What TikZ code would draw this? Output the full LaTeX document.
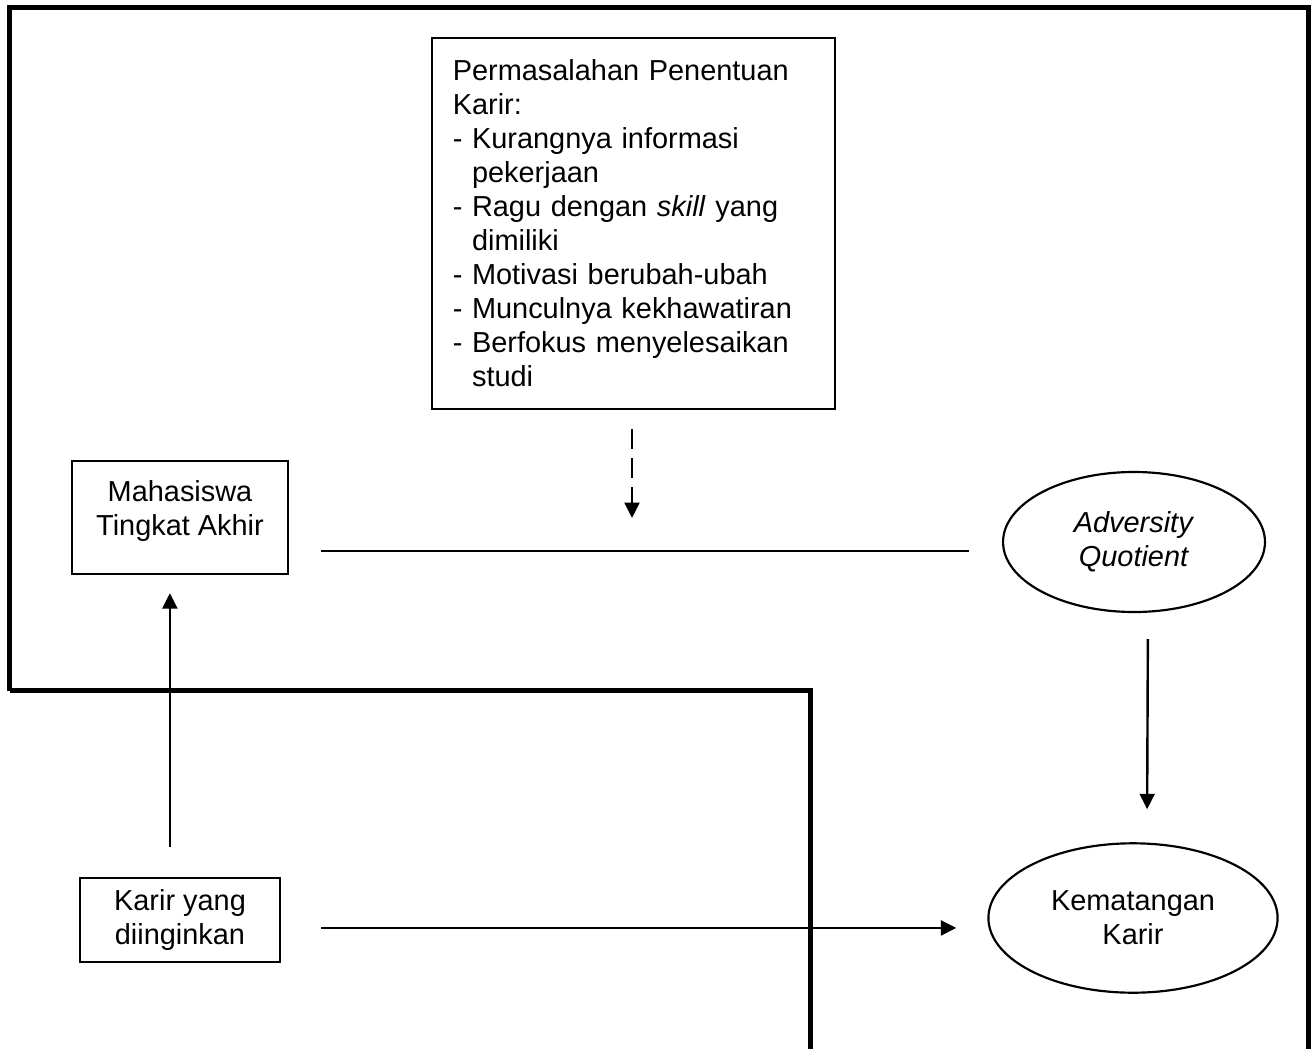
\documentclass[tikz,border=0pt]{standalone}
\usepackage{fontspec}
\setmainfont{Liberation Sans}
\usetikzlibrary{shapes.geometric,arrows.meta}

\tikzset{
        every node/.style={font=\fontsize{12}{14.1}\selectfont},
        box/.style={draw,line width=0.9pt,rectangle,align=center},
        oval/.style={draw,line width=0.9pt,ellipse,align=center,inner sep=0pt},
        arr/.style={line width=1pt,-{Triangle[length=6.4pt,width=6.2pt]}},
        dasharr/.style={arr,dash pattern=on 8.3pt off 3.7pt}
}

\begin{document}
\begin{tikzpicture}[x=0.415pt,y=-0.415pt]
        \useasboundingbox (0,0) rectangle (1311,1049);
        \draw[line width=2.1pt] (9.5,690.5) -- (9.5,7.5) -- (1309,7.5) -- (1309,1049);
        \draw[line width=2.1pt] (9.5,690.5) -- (810.5,690.5) -- (810.5,1049);

        \node[box,align=left,text width=150pt,inner xsep=8.6pt,minimum height=154pt] (prob) at (633.5,223.5)
                {Permasalahan Penentuan\\Karir:\\- Kurangnya informasi\\\hphantom{-\ }pekerjaan\\
                 - Ragu dengan \textit{skill} yang\\\hphantom{-\ }dimiliki\\- Motivasi berubah-ubah\\
                 - Munculnya kekhawatiran\\- Berfokus menyelesaikan\\\hphantom{-\ }studi};
        \node[box,minimum width=89.6pt,minimum height=46.9pt] (mhs) at (180,517.5)
                {Mahasiswa\\Tingkat Akhir\rule[-7.5pt]{0pt}{7.5pt}};
        \node[box,minimum width=83pt,minimum height=34.9pt] (ky) at (180,920) {Karir yang\\diinginkan};
        \node[oval,minimum width=108.7pt,minimum height=58.1pt] (aq) at (1134,542)
                {\textit{Adversity}\\\textit{Quotient}};
        \node[oval,minimum width=120pt,minimum height=62pt] (km) at (1133,918) {Kematangan\\Karir};
        \coordinate (mid) at (632,551);

        \draw[dasharr,shorten <=7.9pt,shorten >=13.7pt] (prob.south -| mid) -- (mid);
        \draw[line width=1pt,shorten <=13.3pt,shorten >=13.7pt] (mhs.east |- mid) -- (aq.west |- mid);
        \draw[arr,shorten <=10.8pt,shorten >=13.7pt] ([xshift=5.8pt]aq.south) -- ([xshift=5.8pt]km.north);
        \draw[arr,shorten <=16.6pt,shorten >=12.9pt] ([yshift=-3.3pt]ky.east) -- ([yshift=-3.3pt]ky.east -| km.west);
        \draw[arr,shorten <=12.5pt,shorten >=7.5pt] ([xshift=-4.2pt]ky.north) -- ([xshift=-4.2pt]mhs.south);
\end{tikzpicture}
\end{document}
